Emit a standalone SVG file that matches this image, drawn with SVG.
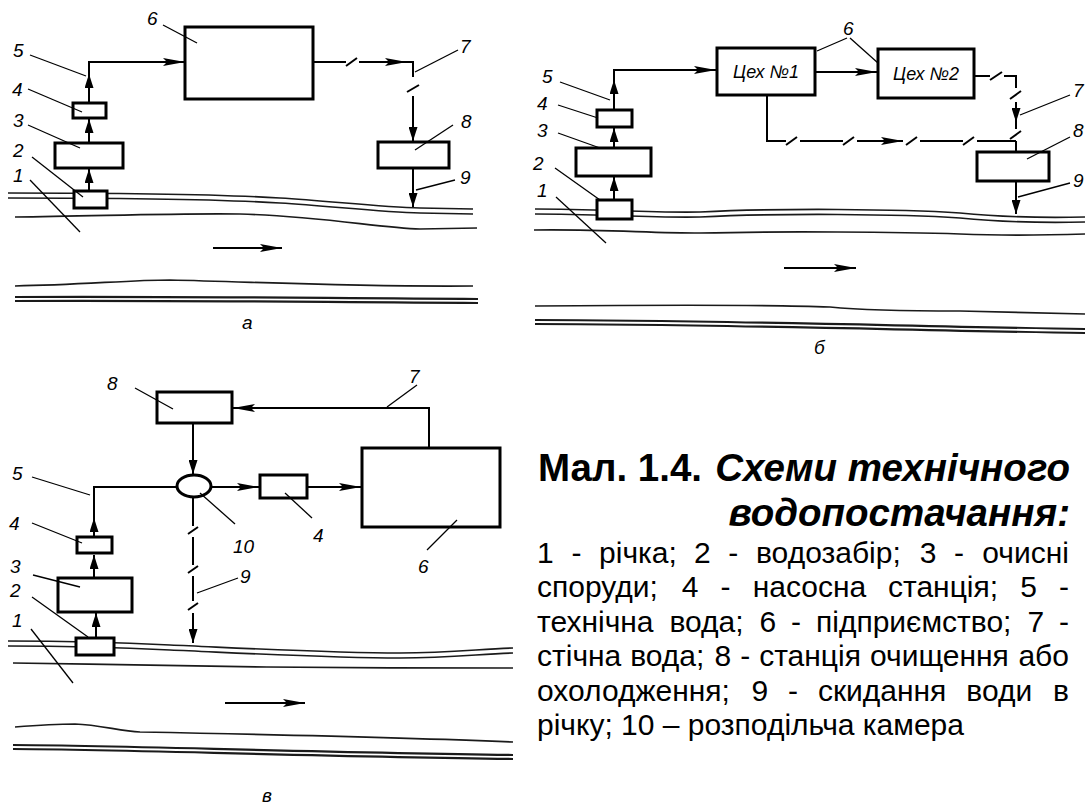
<svg xmlns="http://www.w3.org/2000/svg" width="1085" height="805" viewBox="0 0 1085 805">
<defs>
<style>
.bx{fill:#fff;stroke:#000;stroke-width:3}
.ln{fill:none;stroke:#000;stroke-width:2}
.sl{stroke:#000;stroke-width:2}
.ld{stroke:#000;stroke-width:1.3}
.rv{fill:none;stroke:#1a1a1a;stroke-width:1.7}
.rt{fill:none;stroke:#1a1a1a;stroke-width:2.2}
.lb{font-family:"Liberation Sans",Arial,sans-serif;font-style:italic;font-size:19px;fill:#000}
.cx{font-family:"Liberation Sans",Arial,sans-serif;font-style:italic;font-size:18px;fill:#000}
.cap{font-family:"Liberation Sans",Arial,sans-serif;fill:#000}
.t{font-size:38.5px;font-weight:bold}
.b{font-size:30px}
</style>
<marker id="ah" viewBox="0 0 14 9" markerWidth="14" markerHeight="9" refX="14" refY="4.5" orient="auto" markerUnits="userSpaceOnUse"><path d="M0,0 L14,4.5 L0,9 Z" fill="#000"/></marker>
<marker id="ahL" viewBox="0 0 22 8" markerWidth="22" markerHeight="8" refX="22" refY="4" orient="auto" markerUnits="userSpaceOnUse"><path d="M0,0 L22,4 L0,8 L4,4 Z" fill="#000"/></marker>
</defs>
<rect width="1085" height="805" fill="#fff"/>

<!-- ===== Diagram a ===== -->
<g id="a-river">
<path class="rv" d="M8,193 C150,193 230,195 280,198 C330,201 380,207 420,208 L473,209"/>
<path class="rv" d="M8,198 C150,198 230,200 280,203 C330,206 380,212 420,213 L473,214"/>
<path class="rv" d="M15,217 C100,216 180,213 240,214 C320,216 380,228 420,229 L477,228"/>
<path class="rv" d="M15,286 C80,285 130,280 170,280 C260,282 350,287 473,286"/>
<path class="rt" d="M15,297 C150,296 300,298 478,299"/>
<path class="rt" d="M15,301 C150,300 300,302 478,303"/>
<path class="ln" d="M213,248 H282" marker-end="url(#ahL)"/>
</g>
<g id="a-box6"><rect class="bx" x="185" y="27" width="128" height="72"/></g>
<g id="a-box4"><rect class="bx" x="73" y="103" width="33" height="15"/></g>
<g id="a-box3"><rect class="bx" x="55" y="143" width="68" height="25"/></g>
<g id="a-box2"><rect class="bx" x="74" y="191" width="33" height="17"/></g>
<g id="a-box8"><rect class="bx" x="378" y="142" width="71" height="26"/></g>
<g id="a-connectors">
<path class="ln" d="M89,190 V169" marker-end="url(#ah)"/>
<path class="ln" d="M89,142 V119" marker-end="url(#ah)"/>
<path class="ln" d="M89,102 V62 H185" marker-end="url(#ahL)"/>
<path class="ln" d="M89,90 V74" marker-end="url(#ah)"/>
<path class="ln" d="M313,62 H346"/>
<line class="sl" x1="346" y1="66" x2="357" y2="58"/>
<path class="ln" d="M359,62 H407" marker-end="url(#ahL)"/>
<path class="ln" d="M405,62 H413 V77"/>
<line class="sl" x1="407" y1="92" x2="419" y2="85"/>
<path class="ln" d="M413,96 V141" marker-end="url(#ah)"/>
<path class="ln" d="M413,169 V207" marker-end="url(#ah)"/>
</g>
<g id="a-labels">
<text class="lb" x="147" y="25">6</text><line class="ld" x1="163" y1="25" x2="197" y2="43"/>
<text class="lb" x="13" y="57">5</text><line class="ld" x1="30" y1="55" x2="86" y2="76"/>
<text class="lb" x="12" y="96">4</text><line class="ld" x1="28" y1="89" x2="82" y2="112"/>
<text class="lb" x="13" y="127">3</text><line class="ld" x1="28" y1="125" x2="80" y2="148"/>
<text class="lb" x="13" y="157">2</text><line class="ld" x1="32" y1="157" x2="83" y2="197"/>
<text class="lb" x="13" y="182">1</text><line class="ld" x1="30" y1="180" x2="80" y2="232"/>
<text class="lb" x="460" y="53">7</text><line class="ld" x1="458" y1="50" x2="415" y2="72"/>
<text class="lb" x="461" y="128">8</text><line class="ld" x1="453" y1="125" x2="415" y2="150"/>
<text class="lb" x="460" y="184">9</text><line class="ld" x1="455" y1="180" x2="416" y2="190"/>
<text class="lb" x="242" y="329" font-size="22">а</text>
</g>

<!-- ===== Diagram b ===== -->
<g id="b-river">
<path class="rv" d="M535,209 C600,209 650,213 700,212 C780,208 900,209 960,213 C1000,217 1040,218 1085,217"/>
<path class="rv" d="M535,214 C600,214 650,218 700,217 C780,213 900,214 960,218 C1000,222 1040,223 1085,222"/>
<path class="rv" d="M534,230 C600,229 650,233 700,233 C780,231 900,232 960,234 C1010,236 1050,235 1085,234"/>
<path class="rv" d="M535,306 C650,305 780,305 830,307 C860,310 900,311 960,311 L1085,314"/>
<path class="rt" d="M535,320 C700,320 900,326 1085,329"/>
<path class="rt" d="M535,324 C700,324 900,330 1085,333"/>
<path class="ln" d="M784,268 H856" marker-end="url(#ahL)"/>
</g>
<g id="b-shop1"><rect class="bx" x="717" y="48" width="98" height="47"/><text class="cx" x="766" y="78" text-anchor="middle">Цех №1</text></g>
<g id="b-shop2"><rect class="bx" x="878" y="49" width="96" height="49"/><text class="cx" x="926" y="80" text-anchor="middle">Цех №2</text></g>
<g id="b-box4"><rect class="bx" x="597" y="110" width="35" height="17"/></g>
<g id="b-box3"><rect class="bx" x="576" y="148" width="75" height="28"/></g>
<g id="b-box2"><rect class="bx" x="597" y="200" width="35" height="19"/></g>
<g id="b-box8"><rect class="bx" x="977" y="152" width="72" height="29"/></g>
<g id="b-connectors">
<path class="ln" d="M614,199 V177" marker-end="url(#ah)"/>
<path class="ln" d="M614,147 V128" marker-end="url(#ah)"/>
<path class="ln" d="M614,109 V70 H716" marker-end="url(#ahL)"/>
<path class="ln" d="M614,96 V80" marker-end="url(#ah)"/>
<path class="ln" d="M815,72 H877" marker-end="url(#ahL)"/>
<path class="ln" d="M974,76 H990"/>
<line class="sl" x1="990" y1="80" x2="1002" y2="72"/>
<path class="ln" d="M1004,76 H1016 V88"/>
<line class="sl" x1="1010" y1="99" x2="1021" y2="91"/>
<path class="ln" d="M1016,102 V122" marker-end="url(#ah)"/>
<path class="ln" d="M1016,120 V129"/>
<line class="sl" x1="1010" y1="139" x2="1021" y2="131"/>
<path class="ln" d="M1016,141 V152"/>
<path class="ln" d="M767,96 V141 H786"/>
<line class="sl" x1="786" y1="145" x2="797" y2="137"/>
<path class="ln" d="M800,141 H843"/>
<line class="sl" x1="843" y1="145" x2="854" y2="137"/>
<path class="ln" d="M857,141 H903" marker-end="url(#ahL)"/>
<line class="sl" x1="906" y1="145" x2="917" y2="137"/>
<path class="ln" d="M920,141 H963"/>
<line class="sl" x1="963" y1="145" x2="974" y2="137"/>
<path class="ln" d="M977,141 H1016"/>
<path class="ln" d="M1016,182 V214" marker-end="url(#ah)"/>
</g>
<g id="b-labels">
<text class="lb" x="843" y="35">6</text>
<line class="ld" x1="847" y1="38" x2="817" y2="51"/><line class="ld" x1="850" y1="38" x2="878" y2="63"/>
<text class="lb" x="542" y="83">5</text><line class="ld" x1="560" y1="82" x2="610" y2="100"/>
<text class="lb" x="537" y="110">4</text><line class="ld" x1="558" y1="105" x2="598" y2="118"/>
<text class="lb" x="537" y="137">3</text><line class="ld" x1="558" y1="133" x2="600" y2="148"/>
<text class="lb" x="533" y="170">2</text><line class="ld" x1="555" y1="168" x2="600" y2="200"/>
<text class="lb" x="537" y="197">1</text><line class="ld" x1="556" y1="197" x2="606" y2="243"/>
<text class="lb" x="1073" y="97">7</text><line class="ld" x1="1070" y1="95" x2="1020" y2="115"/>
<text class="lb" x="1073" y="137">8</text><line class="ld" x1="1070" y1="137" x2="1027" y2="159"/>
<text class="lb" x="1073" y="187">9</text><line class="ld" x1="1070" y1="183" x2="1018" y2="197"/>
<text class="lb" x="814" y="354" font-size="22">б</text>
</g>

<!-- ===== Diagram v ===== -->
<g id="v-river">
<path class="rv" d="M8,641 C80,641 130,643 170,645 C240,648 330,653 400,653 C450,653 480,649 513,648"/>
<path class="rv" d="M8,646 C80,646 130,648 170,650 C240,653 330,658 400,658 C450,658 480,654 513,653"/>
<path class="rv" d="M13,663 C100,664 200,666 267,667 C350,668 430,668 513,668"/>
<path class="rv" d="M15,727 C40,725 60,724 75,724 C100,725 120,731 140,732 C300,735 420,738 513,742"/>
<path class="rt" d="M13,745 C100,745 300,752 513,755"/>
<path class="rt" d="M13,749 C100,749 300,756 513,759"/>
<path class="ln" d="M225,703 H305" marker-end="url(#ahL)"/>
</g>
<g id="v-box8"><rect class="bx" x="157" y="392" width="75" height="31"/></g>
<g id="v-node10"><ellipse class="bx" cx="194" cy="486" rx="17" ry="11"/></g>
<g id="v-box4a"><rect class="bx" x="77" y="537" width="35" height="16"/></g>
<g id="v-box3"><rect class="bx" x="58" y="578" width="74" height="34"/></g>
<g id="v-box2"><rect class="bx" x="76" y="638" width="38" height="17"/></g>
<g id="v-box4b"><rect class="bx" x="260" y="475" width="47" height="23"/></g>
<g id="v-box6"><rect class="bx" x="362" y="448" width="138" height="79"/></g>
<g id="v-connectors">
<path class="ln" d="M96,637 V613" marker-end="url(#ah)"/>
<path class="ln" d="M94,577 V555" marker-end="url(#ah)"/>
<path class="ln" d="M94,536 V487 H177"/>
<path class="ln" d="M94,532 V518" marker-end="url(#ah)"/>
<path class="ln" d="M193,424 V474" marker-end="url(#ah)"/>
<path class="ln" d="M211,487 H259" marker-end="url(#ahL)"/>
<path class="ln" d="M307,487 H361" marker-end="url(#ahL)"/>
<path class="ln" d="M429,447 V408 H233" marker-end="url(#ahL)"/>
<path class="ln" d="M193,498 V526"/>
<line class="sl" x1="188" y1="534" x2="198" y2="527"/>
<path class="ln" d="M193,537 V565"/>
<line class="sl" x1="188" y1="573" x2="198" y2="566"/>
<path class="ln" d="M193,576 V601"/>
<line class="sl" x1="188" y1="610" x2="198" y2="603"/>
<path class="ln" d="M193,613 V643" marker-end="url(#ah)"/>
</g>
<g id="v-labels">
<text class="lb" x="107" y="390">8</text><line class="ld" x1="135" y1="388" x2="173" y2="409"/>
<text class="lb" x="12" y="480">5</text><line class="ld" x1="32" y1="477" x2="90" y2="495"/>
<text class="lb" x="9" y="530">4</text><line class="ld" x1="32" y1="523" x2="82" y2="543"/>
<text class="lb" x="10" y="573">3</text><line class="ld" x1="33" y1="575" x2="80" y2="587"/>
<text class="lb" x="10" y="597">2</text><line class="ld" x1="32" y1="597" x2="88" y2="637"/>
<text class="lb" x="12" y="627">1</text><line class="ld" x1="31" y1="629" x2="73" y2="683"/>
<text class="lb" x="233" y="553">10</text><line class="ld" x1="235" y1="524" x2="200" y2="493"/>
<text class="lb" x="313" y="542">4</text><line class="ld" x1="312" y1="518" x2="285" y2="493"/>
<text class="lb" x="418" y="573">6</text><line class="ld" x1="427" y1="550" x2="457" y2="520"/>
<text class="lb" x="240" y="583">9</text><line class="ld" x1="238" y1="578" x2="197" y2="593"/>
<text class="lb" x="409" y="383">7</text><line class="ld" x1="387" y1="407" x2="417" y2="385"/>
<text class="lb" x="262" y="802" font-size="24">в</text>
</g>

<!-- ===== Caption ===== -->
<g id="caption" class="cap">
<text class="t" x="538" y="481">Мал. 1.4.</text>
<text class="t" x="1070" y="481" text-anchor="end" font-style="italic">Схеми технічного</text>
<text class="t" x="1070" y="526" text-anchor="end" font-style="italic">водопостачання:</text>
<text class="b" y="563"><tspan x="537">1</tspan><tspan x="571.4">-</tspan><tspan x="599.1">річка;</tspan><tspan x="693.9">2</tspan><tspan x="728.3">-</tspan><tspan x="756">водозабір;</tspan><tspan x="919.7">3</tspan><tspan x="954">-</tspan></text>
<text class="b" x="1069" y="563" text-anchor="end">очисні</text>
<text class="b" y="597.4"><tspan x="537">споруди;</tspan><tspan x="681.7">4</tspan><tspan x="720.5">-</tspan><tspan x="752.7">насосна</tspan><tspan x="888">станція;</tspan><tspan x="1020.2">5</tspan></text>
<text class="b" x="1069" y="597.4" text-anchor="end">-</text>
<text class="b" y="631.8"><tspan x="537">технічна</tspan><tspan x="669.4">вода;</tspan><tspan x="759.5">6</tspan><tspan x="791.1">-</tspan><tspan x="816">підприємство;</tspan><tspan x="1027.4">7</tspan></text>
<text class="b" x="1069" y="631.8" text-anchor="end">-</text>
<text class="b" y="666.2"><tspan x="537">стічна</tspan><tspan x="630.2">вода;</tspan><tspan x="714.5">8</tspan><tspan x="740.2">-</tspan><tspan x="759.2">станція</tspan><tspan x="870">очищення</tspan></text>
<text class="b" x="1069" y="666.2" text-anchor="end">або</text>
<text class="b" y="700.6"><tspan x="537">охолодження;</tspan><tspan x="751.4">9</tspan><tspan x="788">-</tspan><tspan x="817.9">скидання</tspan><tspan x="966.3">води</tspan></text>
<text class="b" x="1069" y="700.6" text-anchor="end">в</text>
<text class="b" x="537" y="735">річку; 10 – розподільча камера</text>
</g>
</svg>
